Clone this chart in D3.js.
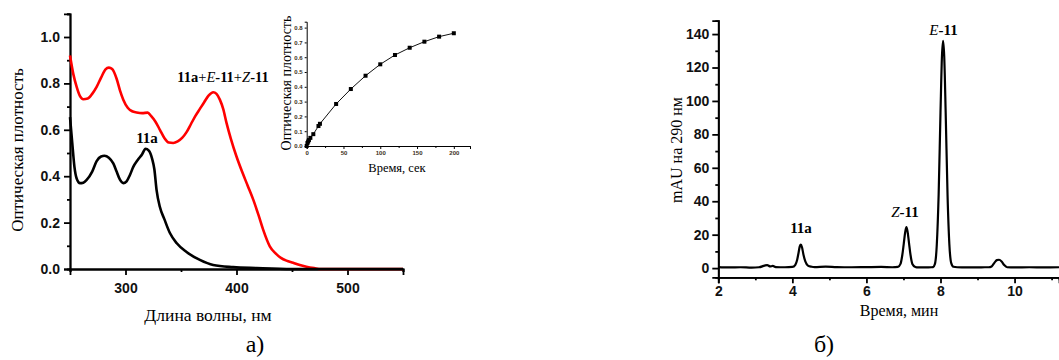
<!DOCTYPE html>
<html>
<head>
<meta charset="utf-8">
<script src="https://cdn.jsdelivr.net/npm/d3@7"></script>
<style>
  html, body { margin: 0; padding: 0; background: #fff; }
  svg { display: block; }
  .tick text { font-family: "Liberation Sans", Arial, sans-serif; font-weight: bold; }
</style>
</head>
<body>
<svg id="fig" width="1059" height="360"></svg>
<script>
// ---- Panel a): UV-Vis spectra ----
const wlRed = [250,253,256,259,262,266,270,274,278,282,285,288,292,295,298,302,306,310,315,320,323,327,331,335,339,343,347,351,355,359,363,367,371,375,379,382,385,388,391,395,400,405,410,415,420,424,430,435,440,445,451,457,463,470,476,500,550];
const absRed = [0.92,0.84,0.785,0.745,0.732,0.735,0.755,0.785,0.825,0.86,0.868,0.862,0.82,0.77,0.73,0.695,0.68,0.675,0.672,0.674,0.66,0.635,0.6,0.565,0.545,0.543,0.55,0.565,0.59,0.625,0.66,0.69,0.72,0.748,0.762,0.755,0.73,0.69,0.63,0.56,0.485,0.42,0.36,0.30,0.23,0.17,0.098,0.068,0.048,0.036,0.027,0.017,0.01,0.004,0,0,0];

const wlBlack = [250,252,254,256,259,262,265,270,274,278,281,285,289,292,295,298,301,304,307,311,315,318,321,324,326,328,331,335,340,346,355,367,379,397,418,450,550];
const absBlack = [0.655,0.545,0.44,0.39,0.37,0.372,0.384,0.42,0.465,0.485,0.488,0.48,0.455,0.42,0.385,0.37,0.378,0.405,0.44,0.47,0.495,0.518,0.51,0.475,0.43,0.34,0.267,0.215,0.155,0.112,0.073,0.039,0.017,0.008,0.004,0,0];

const wlTicks = [300, 400, 500];
const wlMinor = [250, 350, 450, 550];
const absTicks = [0.0, 0.2, 0.4, 0.6, 0.8, 1.0];
const absMinor = [0.1, 0.3, 0.5, 0.7, 0.9, 1.1];

// Inset: kinetics of absorbance growth
const timeSec = [0, 1, 2, 3, 5, 9, 16, 18, 40, 60, 80, 100, 120, 140, 160, 180, 200];
const absTime = [0, 0.02, 0.03, 0.04, 0.055, 0.08, 0.135, 0.15, 0.284, 0.385, 0.475, 0.552, 0.615, 0.664, 0.705, 0.739, 0.762];
const insetXTicks = [0, 50, 100, 150, 200];
const insetXMinor = [25, 75, 125, 175];
const insetYTicks = [0, 0.1, 0.2, 0.3, 0.4, 0.5, 0.6, 0.7, 0.8];

// ---- Panel б): HPLC chromatogram ----
const tMin = [2.0,2.3,2.6,2.9,3.1,3.25,3.32,3.4,3.47,3.55,3.8,4.0,4.08,4.13,4.17,4.2,4.23,4.26,4.3,4.35,4.42,4.52,4.6,4.9,5.2,5.6,6.0,6.4,6.7,6.85,6.92,6.97,7.01,7.05,7.08,7.11,7.15,7.19,7.24,7.32,7.4,7.6,7.75,7.8,7.85,7.9,7.95,8.0,8.04,8.07,8.1,8.14,8.19,8.24,8.29,8.35,8.45,8.7,9.0,9.2,9.3,9.38,9.45,9.52,9.58,9.65,9.72,9.8,10.0,10.4,10.8,11.2];
const mAU = [0.6,0.4,0.5,0.3,0.5,1.5,1.8,1.0,1.3,0.6,0.5,0.7,2,5,9.5,13,14,12.5,8,4,1.5,0.8,0.6,0.9,0.6,0.5,0.6,0.7,0.5,0.7,2.5,8,15,22,24.5,22,15,8,2.5,0.7,0.4,0.4,0.5,0.6,2.5,14,44,93,127,136,127,93,44,14,3,0.8,0.5,0.4,0.4,0.5,0.5,1,3,4.8,5,4,1.8,0.5,0.4,0.5,0.4,0.5];
const tTicks = [2, 4, 6, 8, 10];
const tMinor = [3, 5, 7, 9, 11];
const mauTicks = [0, 20, 40, 60, 80, 100, 120, 140];
const mauMinor = [10, 30, 50, 70, 90, 110, 130];

const svg = d3.select("#fig");
const serif = '"Liberation Serif", "Times New Roman", serif';

function styleAxis(g, width) {
  g.select(".domain").attr("stroke", "#000").attr("stroke-width", width);
  g.selectAll(".tick line").attr("stroke", "#000").attr("stroke-width", width);
  g.selectAll(".tick text").attr("fill", "#111");
}

// ===== Panel a) =====
const xL = d3.scaleLinear().domain([250, 550]).range([70, 403]);
const yL = d3.scaleLinear().domain([0, 1.1]).range([269, 13.8]);

const gA = svg.append("g");

gA.append("g").attr("transform", "translate(0,269)")
  .call(d3.axisBottom(xL).tickValues(wlMinor).tickSize(3).tickFormat(""))
  .call(g => styleAxis(g, 1.8));
gA.append("g").attr("transform", "translate(0,269)")
  .call(d3.axisBottom(xL).tickValues(wlTicks).tickSize(6).tickPadding(8).tickFormat(d3.format("d")))
  .call(g => { styleAxis(g, 1.8); g.selectAll(".tick text").style("font-size", "14px"); });

gA.append("g").attr("transform", "translate(70,0)")
  .call(d3.axisLeft(yL).tickValues(absMinor).tickSize(3).tickFormat(""))
  .call(g => styleAxis(g, 1.8));
gA.append("g").attr("transform", "translate(70,0)")
  .call(d3.axisLeft(yL).tickValues(absTicks).tickSize(6).tickPadding(4).tickFormat(d3.format(".1f")))
  .call(g => { styleAxis(g, 1.8); g.selectAll(".tick text").style("font-size", "14px"); });

const lineL = d3.line().x(d => xL(d[0])).y(d => yL(d[1])).curve(d3.curveMonotoneX);
gA.append("path").datum(d3.zip(wlRed, absRed))
  .attr("d", lineL).attr("fill", "none").attr("stroke", "#ff0000").attr("stroke-width", 2.6);
gA.append("path").datum(d3.zip(wlBlack, absBlack))
  .attr("d", lineL).attr("fill", "none").attr("stroke", "#000").attr("stroke-width", 2.6);

// curve labels
const lblMix = gA.append("text").attr("x", 223).attr("y", 82).attr("text-anchor", "middle")
  .attr("font-family", serif).attr("font-size", 14.5);
lblMix.append("tspan").attr("font-weight", "bold").text("11a");
lblMix.append("tspan").text("+");
lblMix.append("tspan").attr("font-style", "italic").text("E");
lblMix.append("tspan").attr("font-weight", "bold").text("-11");
lblMix.append("tspan").text("+");
lblMix.append("tspan").attr("font-style", "italic").text("Z");
lblMix.append("tspan").attr("font-weight", "bold").text("-11");

gA.append("text").attr("x", 147).attr("y", 143).attr("text-anchor", "middle")
  .attr("font-family", serif).attr("font-size", 15).attr("font-weight", "bold").text("11a");

gA.append("text").attr("x", 208).attr("y", 321).attr("text-anchor", "middle")
  .attr("font-family", serif).attr("font-size", 17.5).text("Длина волны, нм");
gA.append("text").attr("transform", "translate(23,150) rotate(-90)").attr("text-anchor", "middle")
  .attr("font-family", serif).attr("font-size", 17).text("Оптическая плотность");
gA.append("text").attr("x", 255).attr("y", 352).attr("text-anchor", "middle")
  .attr("font-family", serif).attr("font-size", 24).text("а)");

// ===== Inset =====
const xI = d3.scaleLinear().domain([0, 222]).range([306.7, 470]);
const yI = d3.scaleLinear().domain([0, 0.84]).range([146, 21.7]);
const gI = svg.append("g");

gI.append("g").attr("transform", "translate(0,146)")
  .call(d3.axisBottom(xI).tickValues(insetXMinor).tickSize(2).tickFormat(""))
  .call(g => styleAxis(g, 1));
gI.append("g").attr("transform", "translate(0,146)")
  .call(d3.axisBottom(xI).tickValues(insetXTicks).tickSize(3).tickPadding(2).tickFormat(d3.format("d")))
  .call(g => { styleAxis(g, 1); g.selectAll(".tick text").style("font-size", "6px").attr("fill", "#3a3020"); });
gI.append("g").attr("transform", "translate(306.7,0)")
  .call(d3.axisLeft(yI).tickValues(insetYTicks).tickSize(2).tickPadding(2).tickFormat(d3.format(".1f")))
  .call(g => { styleAxis(g, 1); g.selectAll(".tick text").style("font-size", "6px").attr("fill", "#3a3020"); });

const kin = d3.zip(timeSec, absTime);
gI.append("path").datum(kin)
  .attr("d", d3.line().x(d => xI(d[0])).y(d => yI(d[1])))
  .attr("fill", "none").attr("stroke", "#111").attr("stroke-width", 1);
gI.selectAll("rect.pt").data(kin).join("rect").attr("class", "pt")
  .attr("x", d => xI(d[0]) - 2).attr("y", d => yI(d[1]) - 2)
  .attr("width", 4).attr("height", 4).attr("fill", "#000");

gI.append("text").attr("x", 397).attr("y", 172).attr("text-anchor", "middle")
  .attr("font-family", serif).attr("font-size", 12.5).text("Время, сек");
gI.append("text").attr("transform", "translate(291,83) rotate(-90)").attr("text-anchor", "middle")
  .attr("font-family", serif).attr("font-size", 14).text("Оптическая плотность");

// ===== Panel б) =====
const xR = d3.scaleLinear().domain([2, 11.2]).range([718.3, 1059]);
const yR = d3.scaleLinear().domain([-5.5, 148]).range([277.3, 20.7]);
const gB = svg.append("g");

gB.append("g").attr("transform", "translate(0,277.3)")
  .call(d3.axisBottom(xR).tickValues(tMinor).tickSize(3).tickFormat(""))
  .call(g => styleAxis(g, 1.8));
gB.append("g").attr("transform", "translate(0,277.3)")
  .call(d3.axisBottom(xR).tickValues(tTicks).tickSize(6).tickPadding(3).tickFormat(d3.format("d")))
  .call(g => { styleAxis(g, 1.8); g.selectAll(".tick text").style("font-size", "14px"); });
gB.append("g").attr("transform", "translate(718.3,0)")
  .call(d3.axisLeft(yR).tickValues(mauMinor).tickSize(3).tickFormat(""))
  .call(g => styleAxis(g, 1.8));
gB.append("g").attr("transform", "translate(718.3,0)")
  .call(d3.axisLeft(yR).tickValues(mauTicks).tickSize(6).tickPadding(3).tickFormat(d3.format("d")))
  .call(g => { styleAxis(g, 1.8); g.selectAll(".tick text").style("font-size", "14px"); });

gB.append("path").datum(d3.zip(tMin, mAU))
  .attr("d", d3.line().x(d => xR(d[0])).y(d => yR(d[1])).curve(d3.curveMonotoneX))
  .attr("fill", "none").attr("stroke", "#000").attr("stroke-width", 2.2);

function peakLabel(x, y, italicPart, boldPart) {
  const t = gB.append("text").attr("x", x).attr("y", y).attr("text-anchor", "middle")
    .attr("font-family", serif).attr("font-size", 15);
  if (italicPart) t.append("tspan").attr("font-style", "italic").text(italicPart);
  t.append("tspan").attr("font-weight", "bold").text(boldPart);
}
peakLabel(801, 233, null, "11a");
peakLabel(905, 217, "Z", "-11");
peakLabel(943.5, 35, "E", "-11");

gB.append("text").attr("x", 899).attr("y", 316).attr("text-anchor", "middle")
  .attr("font-family", serif).attr("font-size", 16).text("Время, мин");
gB.append("text").attr("transform", "translate(682,150) rotate(-90)").attr("text-anchor", "middle")
  .attr("font-family", serif).attr("font-size", 16).text("mAU на 290 нм");
gB.append("text").attr("x", 824).attr("y", 352).attr("text-anchor", "middle")
  .attr("font-family", serif).attr("font-size", 24).text("б)");
</script>
</body>
</html>
